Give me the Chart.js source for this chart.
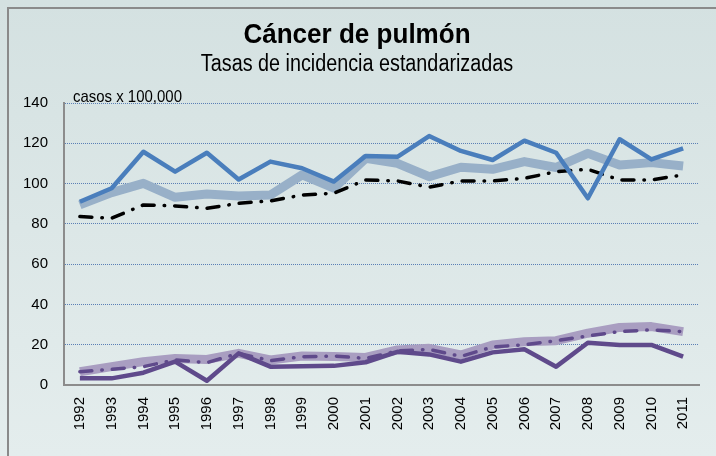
<!DOCTYPE html>
<html>
<head>
<meta charset="utf-8">
<script src="https://cdn.jsdelivr.net/npm/chart.js@4"></script>
<style>
  html, body { margin: 0; padding: 0; }
  body {
    width: 716px; height: 456px; overflow: hidden;
    background: linear-gradient(#d4e1e1, #e4eded);
    position: relative;
  }
  #frame {
    position: absolute; left: 7px; top: 7px; width: 720px; height: 460px;
    border-left: 2px solid #8a8a8a; border-top: 2px solid #8a8a8a;
  }
  #wrap { position: absolute; left: 0; top: 0; width: 716px; height: 456px; }
</style>
</head>
<body>
<div id="frame"></div>
<div id="wrap"><canvas id="chart" width="716" height="456"></canvas></div>
<script>
const years = ["1992","1993","1994","1995","1996","1997","1998","1999","2000","2001",
  "2002","2003","2004","2005","2006","2007","2008","2009","2010","2011"];

// upper group
const menLocal = [91, 97.7, 115.8, 105.9, 115.3, 102, 110.9, 107.6, 101, 113.7,
  113.3, 123.6, 116.2, 111.7, 121.3, 115.3, 92.7, 122, 112, 117.5];
const menRegion = [89.4, 95.5, 100.1, 93.2, 94.8, 93.8, 94.3, 104.3, 97.7, 112.5,
  110, 103.4, 108.1, 107.1, 110.9, 108, 115, 109.2, 110.4, 108.7];
const menTrend = [83.6, 82.8, 89.4, 88.9, 87.7, 90.2, 91.4, 94.3, 95.2, 101.8,
  101.3, 98.2, 101.3, 101.3, 102.6, 105.9, 107.1, 101.8, 101.8, 104.3];

// lower group
const womenLocal = [3.3, 3.3, 6.1, 11.6, 2.1, 15.7, 9.1, 9.3, 9.5, 11.3,
  16.5, 15.2, 11.6, 16.2, 17.7, 9.1, 21, 19.9, 19.9, 14.1];
const womenRegion = [6.6, 9.1, 11.6, 13.2, 12.7, 15.7, 12.4, 14.4, 14.1, 13.7,
  17.4, 18.2, 14.9, 19.9, 21.5, 22, 25.7, 28.6, 29, 26.5];
const womenTrend = [6.6, 7.8, 9.1, 12.5, 11.1, 15.7, 12.1, 14, 14.4, 13.2,
  16.9, 17.7, 14.2, 18.9, 20, 22, 24.4, 26.5, 27.4, 26.5];

const yTicks = [0, 20, 40, 60, 80, 100, 120, 140];

const FONT = "'Liberation Sans', Arial, sans-serif";
const dashDot = [12, 10, 0.5, 10];

// text squeezed horizontally, the original uses a condensed face
function narrowText(ctx, text, x, y, font, squeeze, align) {
  ctx.save();
  ctx.font = font;
  ctx.textAlign = align;
  ctx.translate(x, y);
  ctx.scale(squeeze, 1);
  ctx.fillText(text, 0, 0);
  ctx.restore();
}

const textPlugin = {
  id: "texts",
  afterDraw(chart) {
    const ctx = chart.ctx;
    ctx.save();
    ctx.fillStyle = "#000";
    ctx.textBaseline = "alphabetic";
    narrowText(ctx, "Cáncer de pulmón", 357, 43, "bold 28px " + FONT, 0.93, "center");
    narrowText(ctx, "Tasas de incidencia estandarizadas", 357, 71, "23px " + FONT, 0.86, "center");
    narrowText(ctx, "casos x 100,000", 73, 102, "17px " + FONT, 0.88, "left");
    ctx.restore();
  }
};

function line(data, color, width, dash, order) {
  return {
    data: data,
    borderColor: color,
    borderWidth: width,
    borderDash: dash || [],
    borderCapStyle: dash ? "round" : "butt",
    borderJoinStyle: "round",
    pointRadius: 0,
    fill: false,
    tension: 0,
    order: order
  };
}

new Chart(document.getElementById("chart"), {
  type: "line",
  data: {
    labels: years,
    datasets: [
      line(menRegion, "#98b0c8", 9, null, 6),
      line(menTrend, "#000000", 3.5, dashDot, 5),
      line(menLocal, "#4a7ebc", 4.5, null, 4),
      line(womenRegion, "#a99ec1", 9, null, 3),
      line(womenLocal, "#5f4a8b", 4.5, null, 2),
      line(womenTrend, "#5f4a8b", 3.5, dashDot, 1)
    ]
  },
  options: {
    responsive: false,
    animation: false,
    layout: { padding: { top: 103, right: 17, left: 0, bottom: 0 } },
    plugins: { legend: { display: false }, tooltip: { enabled: false } },
    scales: {
      x: {
        offset: true,
        grid: { display: false, drawTicks: false },
        border: { display: true, color: "#8c8c8c", width: 2 },
        ticks: {
          color: "#000", font: { family: FONT, size: 15 },
          minRotation: 90, maxRotation: 90, padding: 12
        },
        afterFit(scale) { scale.height = 71; }
      },
      y: {
        min: 0, max: 140,
        afterBuildTicks(scale) { scale.ticks = yTicks.map(v => ({ value: v })); },
        grid: {
          color: (c) => c.tick && c.tick.value === 0 ? "rgba(0,0,0,0)" : "#5b7fb5",
          lineWidth: 1, drawTicks: false
        },
        border: { display: true, color: "#8c8c8c", width: 2, dash: [1, 1] },
        ticks: { color: "#000", font: { family: FONT, size: 15 }, padding: 16 },
        afterFit(scale) { scale.width = 64; }
      }
    }
  },
  plugins: [textPlugin]
});
</script>
</body>
</html>
